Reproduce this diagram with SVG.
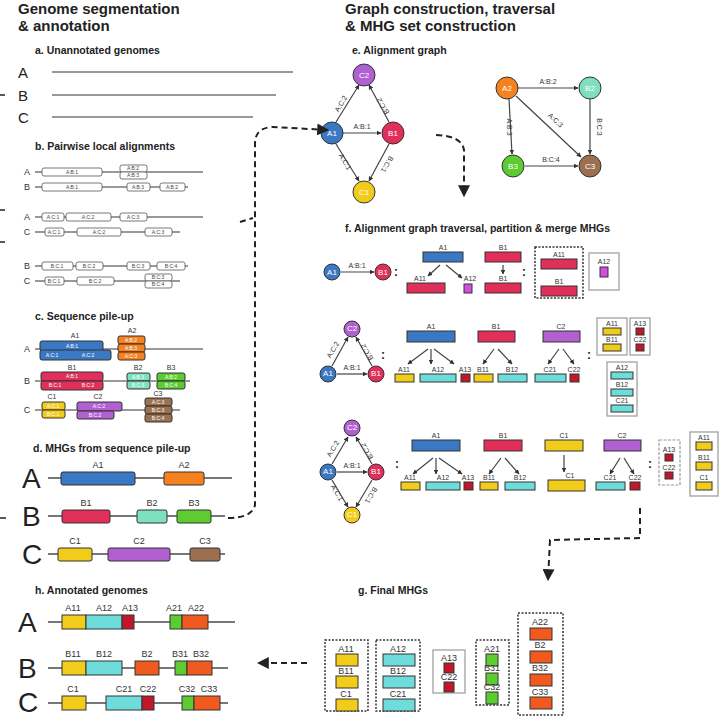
<svg xmlns="http://www.w3.org/2000/svg" width="720" height="720" viewBox="0 0 720 720">
<defs>
<marker id="ar" viewBox="0 0 10 10" refX="9" refY="5" markerWidth="6" markerHeight="6" orient="auto-start-reverse"><path d="M0,0 L10,5 L0,10 z" fill="#222"/></marker>
<marker id="as" viewBox="0 0 10 10" refX="9" refY="5" markerWidth="4" markerHeight="4" orient="auto"><path d="M0,0 L10,5 L0,10 z" fill="#333"/></marker>
<style>
text{font-family:"Liberation Sans",Arial,sans-serif;fill:#222}
.h{font-size:15px;font-weight:bold}
.l{font-size:10.5px;font-weight:bold}
.g{font-size:15px}
.G{font-size:28px}
.s{font-size:9px;text-anchor:middle;fill:#333}
.t{font-size:5px;text-anchor:middle;fill:#fff}
.tb{font-size:5px;text-anchor:middle;fill:#444}
.n{font-size:8px;text-anchor:middle;fill:#fff}
.e{font-size:7px;text-anchor:middle;fill:#333}
.ln{stroke:#777;stroke-width:2;fill:none}
.ln1{stroke:#777;stroke-width:1.3;fill:none}
.w{fill:#fff;stroke:#555;stroke-width:0.8}
.dl{stroke:#222;stroke-width:2;stroke-dasharray:6,4;fill:none}
.ed{stroke:#444;stroke-width:1.2;fill:none;marker-end:url(#as)}
.bx{stroke:#333;stroke-width:1}
.db{fill:none;stroke:#333;stroke-width:1.5;stroke-dasharray:2,1.5}
.gb{fill:none;stroke:#999;stroke-width:1.2}
.bl{fill:#3a78c3}.rd{fill:#e0305a}.or{fill:#f5821f}.mi{fill:#7ee0c0}.gr{fill:#5ccc30}.ye{fill:#f2cc1a}.pu{fill:#b060d0}.br{fill:#9b7050}.cy{fill:#6fdcdc}.rr{fill:#c0182a}.oo{fill:#f05a1e}.mg{fill:#d050e0}
.col{font-size:12px;font-weight:bold}
</style>
</defs>
<rect width="720" height="720" fill="#fff"/>
<text class="h" x="18" y="14">Genome segmentation</text>
<text class="h" x="18" y="31">&amp; annotation</text>
<text class="h" x="345" y="14">Graph construction, traversal</text>
<text class="h" x="345" y="31">&amp; MHG set construction</text>

<g id="sec-a">
<text class="l" x="35" y="54">a. Unannotated genomes</text>
<text class="g" x="18" y="78">A</text><line class="ln1" x1="52" y1="72" x2="293" y2="72" stroke="#333"/>
<text class="g" x="18" y="101">B</text><line class="ln1" x1="52" y1="95" x2="276" y2="95" stroke="#333"/>
<text class="g" x="18" y="123">C</text><line class="ln1" x1="52" y1="117" x2="253" y2="117" stroke="#333"/>
</g>

<g id="sec-b">
<text class="l" x="35" y="150">b. Pairwise local alignments</text>
<text class="s" x="27" y="175">A</text><text class="s" x="27" y="190">B</text><text class="s" x="27" y="220">A</text><text class="s" x="27" y="235">C</text><text class="s" x="27" y="269">B</text><text class="s" x="27" y="284">C</text>
<line class="ln1" x1="35" y1="172" x2="203" y2="172"/><line class="ln1" x1="35" y1="187" x2="188" y2="187"/>
<line class="ln1" x1="35" y1="217" x2="203" y2="217"/><line class="ln1" x1="35" y1="232" x2="180" y2="232"/>
<line class="ln1" x1="35" y1="266" x2="188" y2="266"/><line class="ln1" x1="35" y1="281" x2="180" y2="281"/>
<rect class="w" x="42" y="168" width="60" height="8" rx="2"/><text class="tb" x="72" y="174">A:B:1</text>
<rect class="w" x="120" y="165" width="27" height="7" rx="2"/><text class="tb" x="133" y="170">A:B:2</text>
<rect class="w" x="120" y="172" width="27" height="7" rx="2"/><text class="tb" x="133" y="177">A:B:3</text>
<rect class="w" x="42" y="183" width="60" height="8" rx="2"/><text class="tb" x="72" y="189">A:B:1</text>
<rect class="w" x="127" y="183" width="23" height="8" rx="2"/><text class="tb" x="138" y="189">A:B:3</text>
<rect class="w" x="160" y="183" width="25" height="8" rx="2"/><text class="tb" x="172" y="189">A:B:2</text>
<rect class="w" x="42" y="213" width="22" height="8" rx="2"/><text class="tb" x="53" y="219">A:C:1</text>
<rect class="w" x="66" y="213" width="45" height="8" rx="2"/><text class="tb" x="88" y="219">A:C:2</text>
<rect class="w" x="120" y="213" width="27" height="8" rx="2"/><text class="tb" x="133" y="219">A:C:3</text>
<rect class="w" x="45" y="228" width="19" height="8" rx="2"/><text class="tb" x="54" y="234">A:C:1</text>
<rect class="w" x="77" y="228" width="44" height="8" rx="2"/><text class="tb" x="99" y="234">A:C:2</text>
<rect class="w" x="145" y="228" width="27" height="8" rx="2"/><text class="tb" x="158" y="234">A:C:3</text>
<rect class="w" x="42" y="262" width="31" height="8" rx="2"/><text class="tb" x="57" y="268">B:C:1</text>
<rect class="w" x="76" y="262" width="27" height="8" rx="2"/><text class="tb" x="89" y="268">B:C:2</text>
<rect class="w" x="127" y="262" width="23" height="8" rx="2"/><text class="tb" x="138" y="268">B:C:3</text>
<rect class="w" x="157" y="262" width="28" height="8" rx="2"/><text class="tb" x="171" y="268">B:C:4</text>
<rect class="w" x="45" y="277" width="19" height="8" rx="2"/><text class="tb" x="54" y="283">B:C:1</text>
<rect class="w" x="77" y="277" width="37" height="8" rx="2"/><text class="tb" x="95" y="283">B:C:2</text>
<rect class="w" x="145" y="274" width="27" height="7" rx="2"/><text class="tb" x="158" y="279">B:C:3</text>
<rect class="w" x="145" y="281" width="27" height="7" rx="2"/><text class="tb" x="158" y="286">B:C:4</text>
</g>

<g id="sec-c">
<text class="l" x="35" y="320">c. Sequence pile-up</text>
<text class="s" x="27" y="352">A</text><text class="s" x="27" y="384">B</text><text class="s" x="27" y="413">C</text>
<line class="ln1" x1="35" y1="349" x2="203" y2="349"/><line class="ln1" x1="35" y1="381" x2="190" y2="381"/><line class="ln1" x1="35" y1="410" x2="180" y2="410"/>
<text class="e" x="75" y="338">A1</text><text class="e" x="132" y="333">A2</text>
<rect class="bx bl" x="40" y="341" width="63" height="10" rx="2"/><text class="t" x="72" y="348">A:B:1</text>
<rect class="bx bl" x="40" y="350" width="71" height="10" rx="2"/><text class="t" x="52" y="357">A:C:1</text><text class="t" x="88" y="357">A:C:2</text>
<rect class="bx or" x="118" y="336" width="27" height="8" rx="2"/><text class="t" x="131" y="342">A:B:2</text>
<rect class="bx or" x="118" y="344" width="27" height="8" rx="2"/><text class="t" x="131" y="350">A:B:3</text>
<rect class="bx or" x="118" y="352" width="27" height="8" rx="2"/><text class="t" x="131" y="358">A:C:3</text>
<text class="e" x="72" y="370">B1</text><text class="e" x="138" y="370">B2</text><text class="e" x="171" y="370">B3</text>
<rect class="bx rd" x="41" y="372" width="62" height="9" rx="2"/><text class="t" x="72" y="378">A:B:1</text>
<rect class="bx rd" x="41" y="381" width="62" height="9" rx="2"/><text class="t" x="55" y="387">B:C:1</text><text class="t" x="88" y="387">B:C:2</text>
<rect class="bx mi" x="127" y="373" width="23" height="8" rx="2"/><text class="t" x="138" y="379">A:B:3</text>
<rect class="bx mi" x="127" y="381" width="23" height="8" rx="2"/><text class="t" x="138" y="387">B:C:3</text>
<rect class="bx gr" x="157" y="373" width="28" height="8" rx="2"/><text class="t" x="171" y="379">A:B:2</text>
<rect class="bx gr" x="157" y="381" width="28" height="8" rx="2"/><text class="t" x="171" y="387">B:C:4</text>
<text class="e" x="52" y="399">C1</text><text class="e" x="98" y="399">C2</text><text class="e" x="158" y="396">C3</text>
<rect class="bx ye" x="42" y="402" width="23" height="8" rx="2"/><text class="t" x="53" y="408" fill="#333">A:C:1</text>
<rect class="bx ye" x="42" y="410" width="23" height="8" rx="2"/><text class="t" x="53" y="416" fill="#333">B:C:1</text>
<rect class="bx pu" x="77" y="402" width="45" height="9" rx="2"/><text class="t" x="99" y="408">A:C:2</text>
<rect class="bx pu" x="77" y="411" width="37" height="8" rx="2"/><text class="t" x="95" y="417">B:C:2</text>
<rect class="bx br" x="145" y="398" width="27" height="8" rx="2"/><text class="t" x="158" y="404">A:C:3</text>
<rect class="bx br" x="145" y="406" width="27" height="8" rx="2"/><text class="t" x="158" y="412">B:C:3</text>
<rect class="bx br" x="145" y="414" width="27" height="8" rx="2"/><text class="t" x="158" y="420">B:C:4</text>
</g>

<g id="sec-d">
<text class="l" x="33" y="452">d. MHGs from sequence pile-up</text>
<text class="G" x="22" y="488">A</text><line class="ln" x1="48" y1="478" x2="232" y2="478"/>
<rect class="bx bl" x="61" y="472" width="74" height="13" rx="2"/><text class="s" x="98" y="468">A1</text>
<rect class="bx or" x="164" y="472" width="40" height="13" rx="2"/><text class="s" x="184" y="468">A2</text>
<text class="G" x="22" y="526">B</text><line class="ln" x1="48" y1="516" x2="225" y2="516"/>
<rect class="bx rd" x="62" y="510" width="48" height="13" rx="2"/><text class="s" x="86" y="506">B1</text>
<rect class="bx mi" x="137" y="510" width="30" height="13" rx="2"/><text class="s" x="152" y="506">B2</text>
<rect class="bx gr" x="177" y="510" width="34" height="13" rx="2"/><text class="s" x="194" y="506">B3</text>
<text class="G" x="22" y="564">C</text><line class="ln" x1="48" y1="554" x2="225" y2="554"/>
<rect class="bx ye" x="58" y="548" width="34" height="13" rx="2"/><text class="s" x="75" y="544">C1</text>
<rect class="bx pu" x="108" y="548" width="62" height="13" rx="2"/><text class="s" x="139" y="544">C2</text>
<rect class="bx br" x="190" y="548" width="30" height="13" rx="2"/><text class="s" x="205" y="544">C3</text>
</g>

<g id="sec-h">
<text class="l" x="35" y="594">h. Annotated genomes</text>
<text class="G" x="18" y="632">A</text><line class="ln" x1="48" y1="622" x2="235" y2="622"/>
<rect class="bx ye" x="62" y="615" width="24" height="14"/><rect class="bx cy" x="86" y="615" width="36" height="14"/><rect class="bx rr" x="122" y="615" width="12" height="14"/><rect class="bx gr" x="170" y="615" width="12" height="14"/><rect class="bx oo" x="182" y="615" width="26" height="14"/>
<text class="s" x="73" y="611">A11</text><text class="s" x="104" y="611">A12</text><text class="s" x="130" y="611">A13</text><text class="s" x="174" y="611">A21</text><text class="s" x="196" y="611">A22</text>
<text class="G" x="18" y="678">B</text><line class="ln" x1="48" y1="668" x2="228" y2="668"/>
<rect class="bx ye" x="62" y="661" width="24" height="14"/><rect class="bx cy" x="86" y="661" width="36" height="14"/><rect class="bx oo" x="135" y="661" width="24" height="14"/><rect class="bx gr" x="175" y="661" width="12" height="14"/><rect class="bx oo" x="187" y="661" width="25" height="14"/>
<text class="s" x="73" y="657">B11</text><text class="s" x="104" y="657">B12</text><text class="s" x="147" y="657">B2</text><text class="s" x="180" y="657">B31</text><text class="s" x="201" y="657">B32</text>
<text class="G" x="18" y="712">C</text><line class="ln" x1="48" y1="703" x2="228" y2="703"/>
<rect class="bx ye" x="62" y="696" width="24" height="14"/><rect class="bx cy" x="106" y="696" width="36" height="14"/><rect class="bx rr" x="142" y="696" width="12" height="14"/><rect class="bx gr" x="182" y="696" width="12" height="14"/><rect class="bx oo" x="194" y="696" width="26" height="14"/>
<text class="s" x="73" y="692">C1</text><text class="s" x="124" y="692">C21</text><text class="s" x="148" y="692">C22</text><text class="s" x="187" y="692">C32</text><text class="s" x="209" y="692">C33</text>
</g>

<g id="sec-e">
<text class="l" x="352" y="54">e. Alignment graph</text>
<line class="ed" x1="336" y1="122" x2="359" y2="85"/><line class="ed" x1="343" y1="133" x2="381" y2="133"/><line class="ed" x1="336" y1="144" x2="359" y2="181"/><line class="ed" x1="389" y1="122" x2="369" y2="85"/><line class="ed" x1="389" y1="144" x2="369" y2="181"/>
<text class="e" x="343" y="105" transform="rotate(-60 343 105)">A:C:2</text><text class="e" x="362" y="129">A:B:1</text><text class="e" x="343" y="163" transform="rotate(60 343 163)">A:C:1</text>
<text class="e" x="385" y="105" transform="rotate(240 385 105)">B:C:2</text><text class="e" x="385" y="163" transform="rotate(-240 385 163)">B:C:1</text>
<circle cx="364" cy="75" r="11" class="pu bx"/><text class="n" x="364" y="78">C2</text>
<circle cx="332" cy="133" r="11" class="bl bx"/><text class="n" x="332" y="136">A1</text>
<circle cx="393" cy="133" r="11" class="rd bx"/><text class="n" x="393" y="136">B1</text>
<circle cx="364" cy="192" r="11" class="ye bx"/><text class="n" x="364" y="195" fill="#333">C1</text>
<line class="ed" x1="518" y1="88" x2="578" y2="88"/><line class="ed" x1="509" y1="99" x2="512" y2="154"/><line class="ed" x1="516" y1="96" x2="581" y2="157"/><line class="ed" x1="590" y1="99" x2="590" y2="154"/><line class="ed" x1="525" y1="166" x2="578" y2="166"/>
<text class="e" x="548" y="84">A:B:2</text><text class="e" x="507" y="127" transform="rotate(90 507 127)">A:B:3</text><text class="e" x="554" y="122" transform="rotate(43 554 122)">A:C:3</text><text class="e" x="597" y="127" transform="rotate(90 597 127)">B:C:3</text><text class="e" x="551" y="162">B:C:4</text>
<circle cx="507" cy="88" r="11" class="or bx"/><text class="n" x="507" y="91">A2</text>
<circle cx="590" cy="88" r="11" class="mi bx"/><text class="n" x="590" y="91">B2</text>
<circle cx="513" cy="166" r="11" class="gr bx"/><text class="n" x="513" y="169">B3</text>
<circle cx="590" cy="166" r="11" class="br bx"/><text class="n" x="590" y="169">C3</text>
</g>

<g id="sec-f">
<text class="l" x="345" y="232">f. Alignment graph traversal, partition &amp; merge MHGs</text>
<line class="ed" x1="341" y1="272" x2="374" y2="272"/><text class="e" x="357" y="268">A:B:1</text>
<circle cx="332" cy="272" r="8" class="bl bx"/><text class="n" x="332" y="275" font-size="6">A1</text>
<circle cx="383" cy="272" r="8" class="rd bx"/><text class="n" x="383" y="275" font-size="6">B1</text>
<text class="col" x="394" y="276">:</text>
<text class="e" x="443" y="250">A1</text><rect class="bx bl" x="423" y="252" width="40" height="10"/>
<line class="ed" x1="440" y1="265" x2="428" y2="276"/><line class="ed" x1="446" y1="265" x2="462" y2="278"/>
<text class="e" x="420" y="281">A11</text><rect class="bx rd" x="407" y="283" width="38" height="10"/>
<text class="e" x="470" y="281">A12</text><rect class="bx mg" x="464" y="284" width="8" height="9"/>
<text class="e" x="503" y="250">B1</text><rect class="bx rd" x="485" y="252" width="36" height="10"/>
<line class="ed" x1="503" y1="265" x2="503" y2="274"/><text class="e" x="503" y="281">B1</text><rect class="bx rd" x="485" y="283" width="36" height="10"/>
<text class="col" x="522" y="276">:</text>
<rect class="db" x="535" y="247" width="48" height="51"/>
<text class="e" x="559" y="257">A11</text><rect class="bx rd" x="541" y="259" width="36" height="10"/>
<text class="e" x="559" y="284">B1</text><rect class="bx rd" x="541" y="286" width="36" height="10"/>
<rect class="gb" x="589" y="253" width="30" height="37"/>
<text class="e" x="604" y="264">A12</text><rect class="bx mg" x="600" y="267" width="8" height="10"/>
<line class="ed" x1="332" y1="366" x2="348" y2="337"/><line class="ed" x1="337" y1="374" x2="367" y2="374"/><line class="ed" x1="372" y1="366" x2="356" y2="337"/>
<text class="e" x="335" y="351" transform="rotate(-60 335 351)">A:C:2</text><text class="e" x="352" y="370">A:B:1</text><text class="e" x="369" y="351" transform="rotate(240 369 351)">B:C:2</text>
<circle cx="352" cy="329" r="8" class="pu bx"/><text class="n" x="352" y="331" font-size="6">C2</text>
<circle cx="328" cy="374" r="8" class="bl bx"/><text class="n" x="328" y="376" font-size="6">A1</text>
<circle cx="376" cy="374" r="8" class="rd bx"/><text class="n" x="376" y="376" font-size="6">B1</text>
<text class="col" x="381" y="359">:</text>
<text class="e" x="431" y="329">A1</text><rect class="bx bl" x="407" y="331" width="48" height="11"/>
<text class="e" x="496" y="329">B1</text><rect class="bx rd" x="478" y="331" width="37" height="11"/>
<text class="e" x="561" y="329">C2</text><rect class="bx pu" x="543" y="331" width="37" height="11"/>
<line class="ed" x1="428" y1="349" x2="408" y2="364"/><line class="ed" x1="431" y1="349" x2="431" y2="364"/><line class="ed" x1="434" y1="349" x2="454" y2="364"/>
<line class="ed" x1="494" y1="349" x2="483" y2="364"/><line class="ed" x1="498" y1="349" x2="512" y2="364"/>
<line class="ed" x1="559" y1="349" x2="548" y2="364"/><line class="ed" x1="563" y1="349" x2="574" y2="364"/>
<text class="e" x="404" y="372">A11</text><rect class="bx ye" x="395" y="374" width="19" height="8"/>
<text class="e" x="438" y="372">A12</text><rect class="bx cy" x="420" y="374" width="36" height="8"/>
<text class="e" x="465" y="372">A13</text><rect class="bx rr" x="461" y="374" width="9" height="8"/>
<text class="e" x="483" y="372">B11</text><rect class="bx ye" x="474" y="374" width="19" height="8"/>
<text class="e" x="512" y="372">B12</text><rect class="bx cy" x="498" y="374" width="29" height="8"/>
<text class="e" x="550" y="372">C21</text><rect class="bx cy" x="535" y="374" width="31" height="8"/>
<text class="e" x="574" y="372">C22</text><rect class="bx rr" x="570" y="374" width="9" height="8"/>
<text class="col" x="587" y="359">:</text>
<rect class="gb" x="597" y="318" width="30" height="37"/>
<text class="e" x="612" y="326">A11</text><rect class="bx ye" x="603" y="328" width="18" height="7"/>
<text class="e" x="612" y="342">B11</text><rect class="bx ye" x="603" y="344" width="18" height="7"/>
<rect class="gb" x="630" y="318" width="20" height="37"/>
<text class="e" x="640" y="326">A13</text><rect class="bx rr" x="636" y="328" width="8" height="7"/>
<text class="e" x="640" y="342">C22</text><rect class="bx rr" x="636" y="344" width="8" height="7"/>
<rect class="gb" x="607" y="362" width="30" height="54"/>
<text class="e" x="622" y="370">A12</text><rect class="bx cy" x="611" y="372" width="22" height="7"/>
<text class="e" x="622" y="387">B12</text><rect class="bx cy" x="611" y="389" width="22" height="7"/>
<text class="e" x="622" y="403">C21</text><rect class="bx cy" x="611" y="405" width="22" height="7"/>
<line class="ed" x1="332" y1="464" x2="348" y2="437"/><line class="ed" x1="337" y1="472" x2="367" y2="472"/><line class="ed" x1="372" y1="464" x2="356" y2="437"/><line class="ed" x1="332" y1="480" x2="348" y2="507"/><line class="ed" x1="372" y1="480" x2="356" y2="507"/>
<text class="e" x="335" y="450" transform="rotate(-60 335 450)">A:C:2</text><text class="e" x="352" y="468">A:B:1</text><text class="e" x="369" y="450" transform="rotate(240 369 450)">B:C:2</text><text class="e" x="335" y="494" transform="rotate(60 335 494)">A:C:1</text><text class="e" x="369" y="494" transform="rotate(-240 369 494)">B:C:1</text>
<circle cx="352" cy="428" r="8" class="pu bx"/><text class="n" x="352" y="430" font-size="6">C2</text>
<circle cx="328" cy="472" r="8" class="bl bx"/><text class="n" x="328" y="474" font-size="6">A1</text>
<circle cx="376" cy="472" r="8" class="rd bx"/><text class="n" x="376" y="474" font-size="6">B1</text>
<circle cx="352" cy="515" r="8" class="ye bx"/><text class="n" x="352" y="517" font-size="6" fill="#333">C1</text>
<text class="col" x="395" y="468">:</text>
<text class="e" x="436" y="438">A1</text><rect class="bx bl" x="412" y="440" width="48" height="11"/>
<text class="e" x="503" y="438">B1</text><rect class="bx rd" x="484" y="440" width="38" height="11"/>
<text class="e" x="564" y="438">C1</text><rect class="bx ye" x="545" y="440" width="38" height="11"/>
<text class="e" x="622" y="438">C2</text><rect class="bx pu" x="604" y="440" width="37" height="11"/>
<line class="ed" x1="433" y1="458" x2="413" y2="474"/><line class="ed" x1="436" y1="458" x2="436" y2="474"/><line class="ed" x1="439" y1="458" x2="462" y2="474"/>
<line class="ed" x1="501" y1="458" x2="489" y2="474"/><line class="ed" x1="505" y1="458" x2="519" y2="474"/>
<line class="ed" x1="564" y1="455" x2="564" y2="472"/>
<line class="ed" x1="620" y1="458" x2="610" y2="474"/><line class="ed" x1="624" y1="458" x2="634" y2="474"/>
<text class="e" x="410" y="480">A11</text><rect class="bx ye" x="401" y="482" width="19" height="8"/>
<text class="e" x="443" y="480">A12</text><rect class="bx cy" x="426" y="482" width="34" height="8"/>
<text class="e" x="468" y="480">A13</text><rect class="bx rr" x="464" y="482" width="9" height="8"/>
<text class="e" x="489" y="480">B11</text><rect class="bx ye" x="480" y="482" width="18" height="8"/>
<text class="e" x="520" y="480">B12</text><rect class="bx cy" x="505" y="482" width="30" height="8"/>
<text class="e" x="570" y="478">C1</text><rect class="bx ye" x="548" y="480" width="37" height="11"/>
<text class="e" x="610" y="480">C21</text><rect class="bx cy" x="596" y="482" width="29" height="8"/>
<text class="e" x="635" y="480">C22</text><rect class="bx rr" x="630" y="482" width="10" height="8"/>
<text class="col" x="648" y="468">:</text>
<rect class="gb" x="659" y="440" width="21" height="45" stroke-dasharray="3,1.5"/>
<text class="e" x="669" y="452">A13</text><rect class="bx rr" x="665" y="454" width="8" height="7"/>
<text class="e" x="669" y="470">C22</text><rect class="bx rr" x="665" y="472" width="8" height="7"/>
<rect class="gb" x="690" y="432" width="28" height="64"/>
<text class="e" x="704" y="440">A11</text><rect class="bx ye" x="696" y="442" width="16" height="8"/>
<text class="e" x="704" y="460">B11</text><rect class="bx ye" x="696" y="462" width="16" height="8"/>
<text class="e" x="704" y="480">C1</text><rect class="bx ye" x="696" y="482" width="16" height="8"/>
</g>

<g id="sec-g">
<text class="l" x="358" y="594">g. Final MHGs</text>
<rect class="db" x="325" y="640" width="43" height="71"/>
<text class="s" x="346" y="652">A11</text><rect class="bx ye" x="336" y="654" width="22" height="12"/>
<text class="s" x="346" y="674">B11</text><rect class="bx ye" x="336" y="676" width="22" height="12"/>
<text class="s" x="346" y="697">C1</text><rect class="bx ye" x="336" y="699" width="22" height="12"/>
<rect class="db" x="376" y="640" width="44" height="71"/>
<text class="s" x="398" y="652">A12</text><rect class="bx cy" x="383" y="654" width="32" height="12"/>
<text class="s" x="398" y="674">B12</text><rect class="bx cy" x="383" y="676" width="32" height="12"/>
<text class="s" x="398" y="697">C21</text><rect class="bx cy" x="383" y="699" width="32" height="12"/>
<rect class="gb" x="433" y="650" width="32" height="43"/>
<text class="s" x="449" y="661">A13</text><rect class="bx rr" x="444" y="663" width="10" height="10"/>
<text class="s" x="449" y="680">C22</text><rect class="bx rr" x="444" y="682" width="10" height="10"/>
<rect class="db" x="476" y="640" width="33" height="65"/>
<text class="s" x="492" y="652">A21</text><rect class="bx gr" x="486" y="654" width="12" height="12"/>
<text class="s" x="492" y="671">B31</text><rect class="bx gr" x="486" y="673" width="12" height="12"/>
<text class="s" x="492" y="690">C32</text><rect class="bx gr" x="486" y="692" width="12" height="12"/>
<rect class="db" x="518" y="613" width="45" height="102" stroke-width="2"/>
<text class="s" x="540" y="625">A22</text><rect class="bx oo" x="530" y="628" width="22" height="12"/>
<text class="s" x="540" y="648">B2</text><rect class="bx oo" x="530" y="651" width="22" height="12"/>
<text class="s" x="540" y="671">B32</text><rect class="bx oo" x="530" y="674" width="22" height="12"/>
<text class="s" x="540" y="695">C33</text><rect class="bx oo" x="530" y="697" width="22" height="12"/>
</g>

<g id="connectors">
<path class="dl" d="M228,518 Q252,518 255,505 L255,142 Q256,128 272,127 L328,130" marker-end="url(#ar)"/>
<path class="dl" d="M240,222 L253,218"/>
<path class="dl" d="M436,135 Q462,136 464,150 L464,196" marker-end="url(#ar)"/>
<path class="dl" d="M640,508 L640,538 L550,540 L548,580" marker-end="url(#ar)"/>
<path class="dl" d="M307,663 L258,663" marker-end="url(#ar)"/>
<path stroke="#222" stroke-width="1.5" d="M0,95 L5,95 M0,210 L5,210 M0,242 L5,242 M0,518 L6,518"/>
</g>
</svg>
